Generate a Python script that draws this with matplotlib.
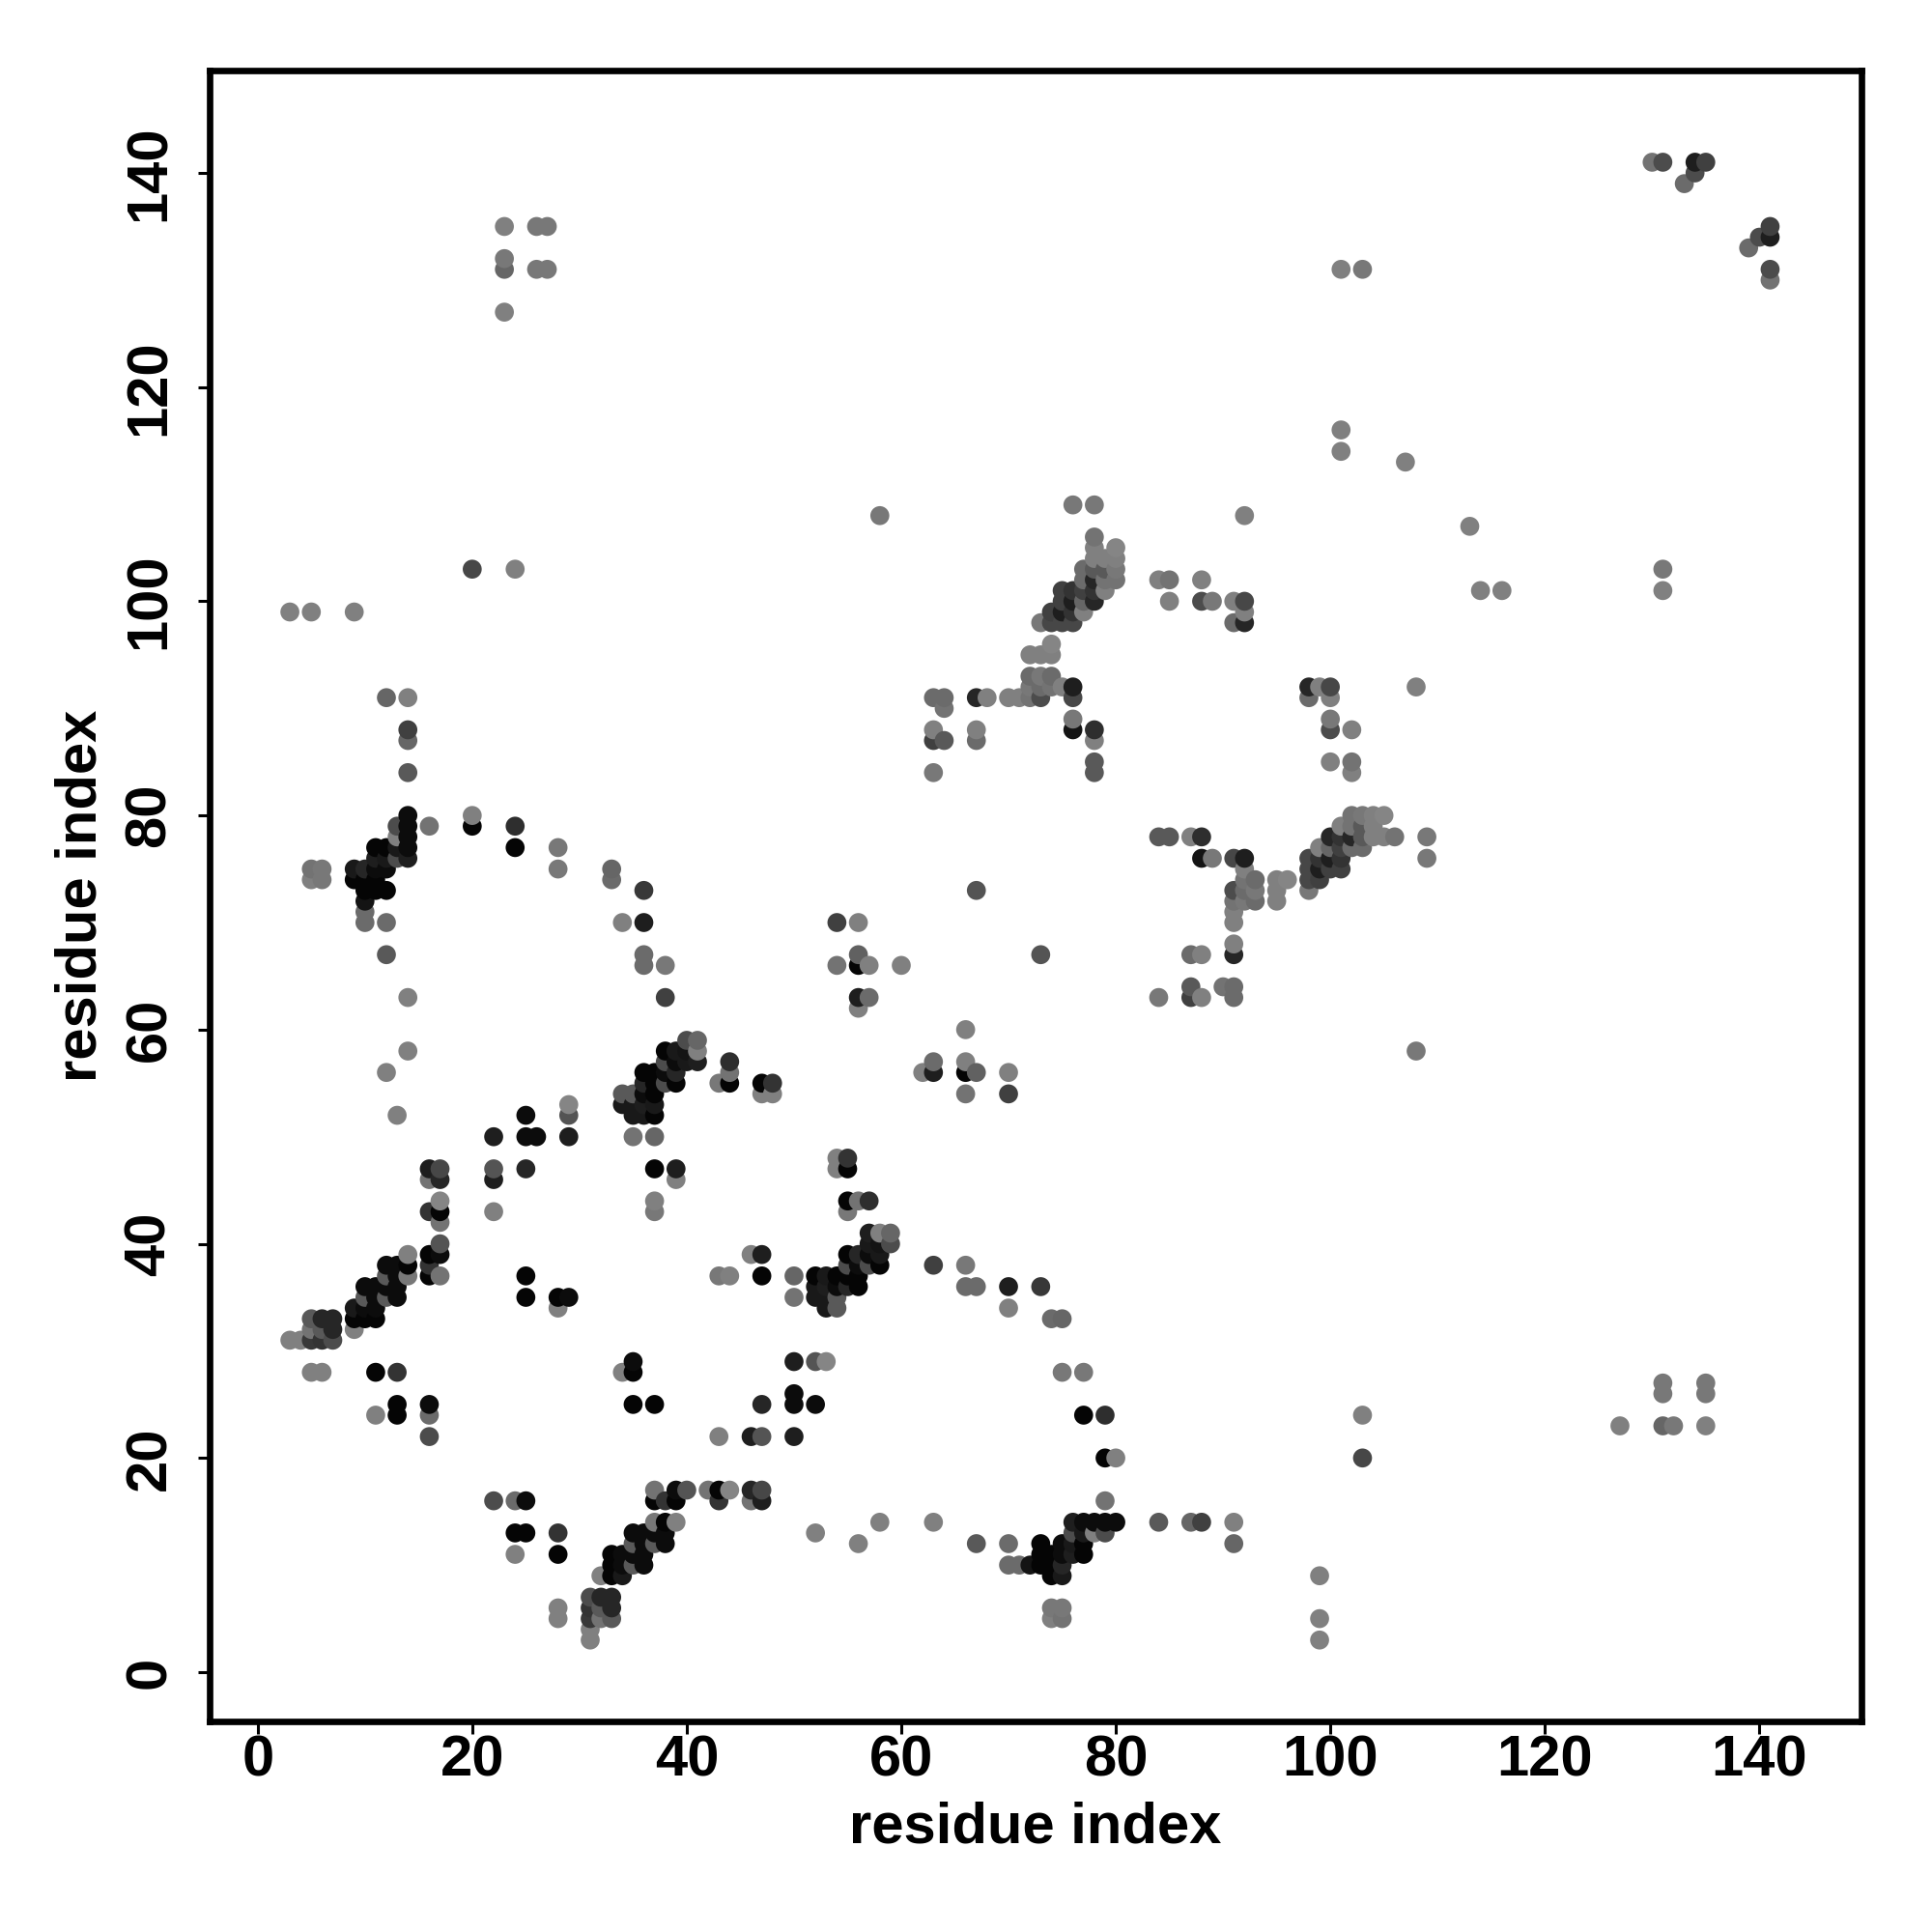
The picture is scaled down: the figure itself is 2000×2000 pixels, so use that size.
import numpy as np
import matplotlib
matplotlib.use("Agg")
import matplotlib.pyplot as plt

# contacts i < j, one row per i. the map is symmetric so each one is drawn twice
res_i = [3, 4, 5, 6, 7, 9, 10, 11, 12, 13, 14, 16, 17, 20, 22, 23, 24, 25, 26, 27, 28, 29,
         33, 34, 35, 36, 37, 38, 39, 40, 41, 43, 44, 47, 48, 54, 56, 57, 58, 60, 63, 64,
         67, 68, 70, 71, 72, 73, 74, 75, 76, 77, 78, 79, 80, 84, 85, 88, 89, 91, 92,
         101, 103, 107, 130, 131, 133, 134, 135]
res_j = [[31, 99],
         [31],
         [28, 31, 32, 33, 74, 75, 99],
         [28, 31, 32, 33, 74, 75],
         [31, 32, 33],
         [32, 33, 34, 74, 75, 99],
         [33, 34, 35, 36, 70, 71, 72, 73, 74, 75],
         [24, 28, 33, 34, 35, 36, 73, 74, 75, 76, 77],
         [35, 36, 37, 38, 56, 67, 70, 73, 75, 76, 77, 91],
         [24, 25, 28, 35, 36, 37, 38, 52, 76, 77, 78, 79],
         [37, 38, 39, 58, 63, 76, 77, 78, 79, 80, 84, 87, 88, 91],
         [22, 24, 25, 37, 38, 39, 43, 46, 47, 79],
         [37, 39, 40, 42, 43, 44, 46, 47],
         [79, 80, 103],
         [43, 46, 47, 50],
         [127, 131, 132, 135],
         [77, 79, 103],
         [35, 37, 47, 50, 52],
         [50, 131, 135],
         [131, 135],
         [34, 35, 75, 77],
         [35, 50, 52, 53],
         [74, 75],
         [53, 54, 70],
         [50, 52, 53, 54],
         [52, 53, 54, 55, 56, 66, 67, 70, 73],
         [43, 44, 47, 50, 52, 53, 54, 55, 56],
         [55, 56, 57, 58, 63, 66],
         [46, 47, 55, 56, 57, 58],
         [57, 58, 59],
         [57, 58, 59],
         [55],
         [55, 56, 57],
         [54, 55],
         [54, 55],
         [66, 70],
         [62, 63, 66, 67, 70],
         [63, 66],
         [108],
         [66],
         [84, 87, 88, 91],
         [87, 90, 91],
         [73, 87, 88, 91],
         [91],
         [91],
         [91],
         [91, 92, 93, 95],
         [91, 92, 93, 95, 98],
         [92, 93, 95, 96, 98, 99],
         [92, 98, 99, 100, 101],
         [88, 89, 91, 92, 98, 99, 100, 101, 109],
         [99, 100, 101, 102, 103],
         [84, 85, 87, 88, 100, 101, 102, 103, 104, 105, 106, 109],
         [101, 102, 103, 104],
         [102, 103, 104, 105],
         [102],
         [100, 102],
         [100, 102],
         [100],
         [98, 100],
         [98, 99, 100, 108],
         [114, 116, 131],
         [131],
         [113],
         [141],
         [141],
         [139],
         [140, 141],
         [141]]
# 0 is black, about .5 is the lightest grey in the picture
shade = [[.5, .5],
         [.5],
         [.5, .22, .45, .35, .5, .45, .5],
         [.5, .2, .35, .15, .47, .47],
         [.3, .15, .15],
         [.5, .02, .1, .02, .1, .5],
         [.02, .05, .35, .05, .42, .42, .08, .02, .02, .15],
         [.5, .02, .02, .05, .05, .05, .02, .02, .05, .12, .02],
         [.35, .05, .35, .05, .5, .35, .42, .02, .05, .1, .02, .4],
         [.02, .02, .2, .05, .05, .05, .05, .5, .3, .1, .5, .3],
         [.47, .02, .5, .5, .5, .12, .05, .05, .05, .05, .35, .4, .25, .5],
         [.3, .42, .05, .02, .2, .02, .2, .45, .12, .45],
         [.45, .05, .33, .45, .02, .52, .15, .28],
         [.02, .5, .28],
         [.5, .12, .33, .12],
         [.5, .4, .47, .5],
         [.02, .18, .5],
         [.02, .02, .15, .05, .05],
         [.05, .47, .47],
         [.47, .47],
         [.5, .02, .47, .47],
         [.05, .12, .33, .52],
         [.42, .4],
         [.1, .35, .5],
         [.45, .1, .1, .35],
         [.1, .12, .05, .15, .02, .42, .42, .12, .22],
         [.47, .5, .02, .4, .02, .1, .02, .02, .02],
         [.3, .05, .3, .02, .25, .47],
         [.5, .12, .02, .15, .05, .1],
         [.1, .08, .3],
         [.12, .5, .4],
         [.47],
         [.02, .45, .18],
         [.5, .02],
         [.5, .2],
         [.45, .25],
         [.5, .12, .02, .38, .5],
         [.42, .5],
         [.47],
         [.5],
         [.47, .25, .5, .42],
         [.35, .45, .42],
         [.33, .42, .5, .15],
         [.5],
         [.5],
         [.5],
         [.45, .47, .42, .5],
         [.3, .42, .47, .5, .47],
         [.45, .42, .5, .52, .28, .25],
         [.5, .28, .12, .25, .25],
         [.08, .47, .28, .12, .28, .2, .12, .2, .47],
         [.5, .4, .25, .42, .42],
         [.35, .35, .5, .18, .15, .2, .15, .35, .5, .5, .45, .47],
         [.5, .45, .35, .5],
         [.45, .47, .5, .52],
         [.5],
         [.5, .45],
         [.3, .5],
         [.47],
         [.42, .5],
         [.15, .5, .28, .5],
         [.5, .5, .5],
         [.47],
         [.5],
         [.45],
         [.3],
         [.42],
         [.3, .12],
         [.25]]
tick_values = [0, 20, 40, 60, 80, 100, 120, 140]

i_arr = np.repeat(res_i, [len(r) for r in res_j])
j_arr = np.concatenate(res_j)
g_arr = np.concatenate(shade)

x = np.concatenate([i_arr, j_arr])
y = np.concatenate([j_arr, i_arr])
g = np.concatenate([g_arr, g_arr])
# later residues sit on top of earlier ones
order = np.lexsort((y, x))

plt.rcParams['font.family'] = ['Liberation Sans', 'DejaVu Sans']
plt.rcParams['font.weight'] = 'bold'

fig = plt.figure(figsize=(10, 10), dpi=200)
ax = fig.add_axes([0.1084, 0.109, 0.855, 0.8547])
ax.scatter(x[order], y[order], c=g[order], cmap='gray', vmin=0, vmax=1, s=50, linewidths=0)

ax.set_xlim(-4.5, 149.5)
ax.set_ylim(-4.6, 149.6)
ax.set_xticks(tick_values)
ax.set_yticks(tick_values)
ax.tick_params(length=4.5, width=1.1, labelsize=21.5)
ax.tick_params(axis='x', pad=0.5)
ax.tick_params(axis='y', pad=12)
for lab in ax.get_yticklabels():
    lab.set_rotation(90)
    lab.set_rotation_mode('anchor')
    lab.set_ha('center')
    lab.set_va('baseline')
for s in ax.spines.values():
    s.set_linewidth(2.4)
ax.set_xlabel('residue index', fontsize=21.5, fontweight='bold', labelpad=5)
ax.set_ylabel('residue index', fontsize=21.5, fontweight='bold', labelpad=6)

fig.savefig('out.png')
